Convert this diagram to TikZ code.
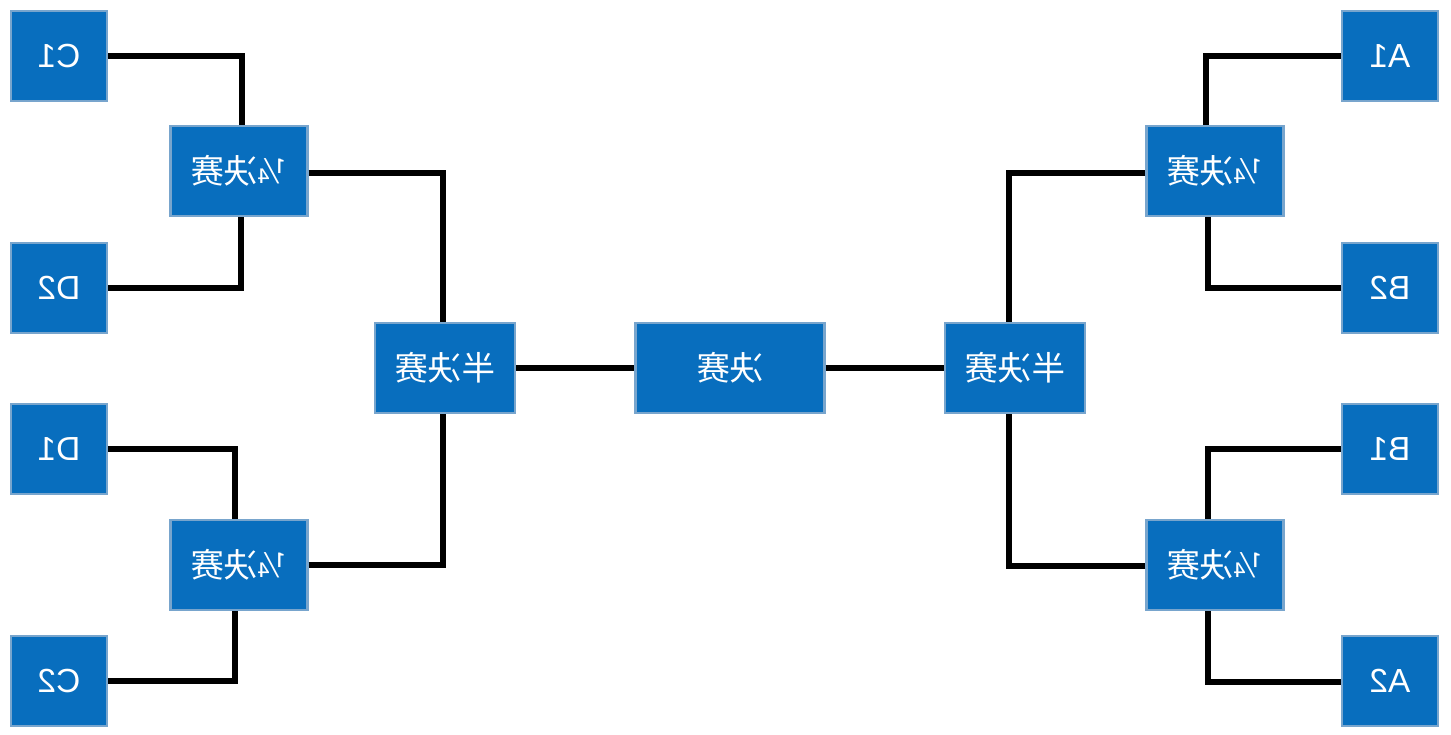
\documentclass[tikz,border=0pt]{standalone}
\usepackage{fontspec}
\usetikzlibrary{calc}
\setmainfont{Liberation Sans}
\newfontfamily\cjk{Noto Sans CJK SC}
\definecolor{boxfill}{RGB}{8,110,190}
\definecolor{boxedge}{RGB}{120,165,205}
\newcommand{\mir}[1]{\reflectbox{#1}}
\begin{document}
\begin{tikzpicture}[x=0.02cm,y=-0.02cm,
  box/.style={draw=boxedge,line width=1.2pt,fill=boxfill,text=white,inner sep=0pt,
    font=\fontsize{19pt}{22pt}\selectfont},
  team/.style={box,minimum width=1.92cm,minimum height=1.8cm},
  qbox/.style={box,minimum width=2.74cm,minimum height=1.8cm},
  sbox/.style={box,minimum width=2.8cm,minimum height=1.8cm},
  fbox/.style={box,minimum width=3.78cm,minimum height=1.8cm},
  link/.style={line width=3.3pt,black}]
\useasboundingbox (0,0) rectangle (1451,734);
% left teams
\node[team] (c1) at (59,56) {\mir{C1}};
\node[team] (d2) at (59,288) {\mir{D2}};
\node[team] (d1) at (59,449) {\mir{D1}};
\node[team] (c2) at (59,681) {\mir{C2}};
% right teams
\node[team] (a1) at (1390,56) {\mir{A1}};
\node[team] (b2) at (1390,288) {\mir{B2}};
\node[team] (b1) at (1390,449) {\mir{B1}};
\node[team] (a2) at (1390,681) {\mir{A2}};
% quarter finals
\node[qbox] (ql1) at (239,171) {\mir{\cjk ¼决赛}};
\node[qbox] (ql2) at (239,565) {\mir{\cjk ¼决赛}};
\node[qbox] (qr1) at (1215,171) {\mir{\cjk ¼决赛}};
\node[qbox] (qr2) at (1215,565) {\mir{\cjk ¼决赛}};
% semi finals
\node[sbox] (sl) at (445,368) {\mir{\cjk 半决赛}};
\node[sbox] (sr) at (1015,368) {\mir{\cjk 半决赛}};
% final
\node[fbox] (fin) at (730,368) {\mir{\cjk 决赛}};
% connectors left
\draw[link] (c1.east) -| ($(ql1.north)+(3,0)$);
\draw[link] (d2.east) -| ($(ql1.south)+(2,0)$);
\draw[link] (d1.east) -| ($(ql2.north)+(-4,0)$);
\draw[link] (c2.east) -| ($(ql2.south)+(-4,0)$);
\draw[link] ($(ql1.east)+(0,2)$) -| ($(sl.north)+(-2,0)$);
\draw[link] (ql2.east) -| ($(sl.south)+(-2,0)$);
\draw[link] (sl) -- (fin);
% connectors right
\draw[link] (fin) -- (sr);
\draw[link] ($(qr1.west)+(0,2)$) -| ($(sr.north)+(-6,0)$);
\draw[link] ($(qr2.west)+(0,1)$) -| ($(sr.south)+(-6,0)$);
\draw[link] (a1.west) -| ($(qr1.north)+(-9,0)$);
\draw[link] (b2.west) -| ($(qr1.south)+(-7,0)$);
\draw[link] (b1.west) -| ($(qr2.north)+(-7,0)$);
\draw[link] ($(a2.west)+(0,1)$) -| ($(qr2.south)+(-7,0)$);
\end{tikzpicture}
\end{document}
